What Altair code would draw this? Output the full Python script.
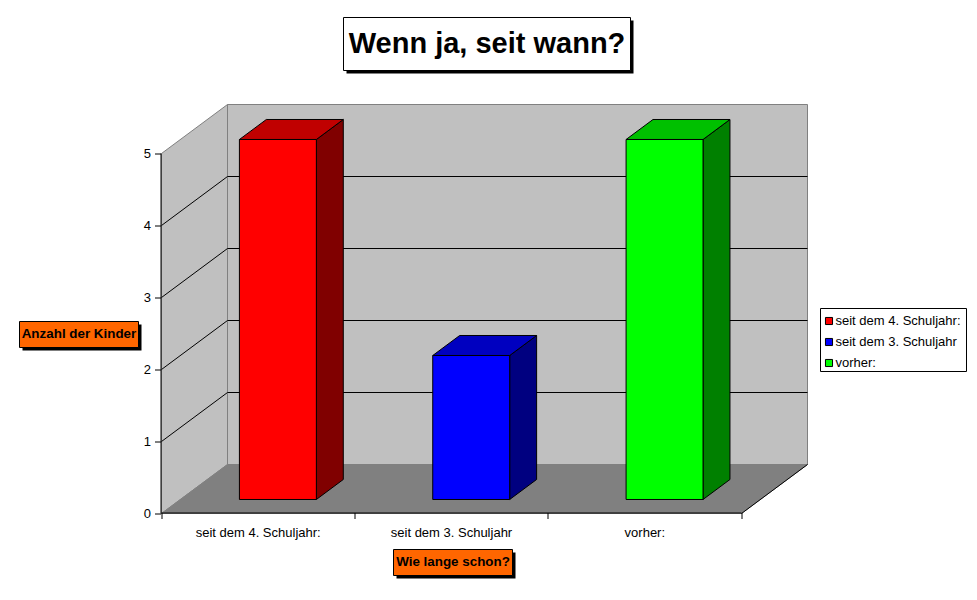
import altair as alt
import pandas as pd

categories = ["seit dem 4. Schuljahr:", "seit dem 3. Schuljahr", "vorher:"]
values = [5, 2, 5]
front_colors = ["#FF0000", "#0000FF", "#00FF00"]
top_colors = ["#C00000", "#0000C0", "#00C000"]
side_colors = ["#800000", "#000080", "#008000"]
y_ticks = [0, 1, 2, 3, 4, 5]
x_ticks = [0, 1, 2, 3]
grid_levels = [1, 2, 3, 4]

FONT = "Liberation Sans"
W, H = 961, 584
Y_MAX = 5
X_MAX = 3
# depth of the 3D box in data units
DX = 66 / 193.33
DY = 49 / 72
T0, T1 = 0.286, 0.694
INSET, BAR_W = 0.403, 0.398

xs = alt.Scale(domain=[0, X_MAX], range=[153.5, 733.5], nice=False, zero=False)
ys = alt.Scale(domain=[0, Y_MAX], range=[505.5, 145.5], nice=False, zero=False)


def X(f="x", axis=None):
    return alt.X(f"{f}:Q", scale=xs, axis=axis, title=None)


def Y(f="y", axis=None):
    return alt.Y(f"{f}:Q", scale=ys, axis=axis, title=None)


X2 = alt.X2("x2:Q")
Y2 = alt.Y2("y2:Q")
layers = []
one = pd.DataFrame({"a": [0]})

# back wall
layers.append(
    alt.Chart(pd.DataFrame([{"x": DX, "x2": X_MAX + DX, "y": DY, "y2": Y_MAX + DY}]))
    .mark_rect(fill="#C0C0C0", stroke="#808080", strokeWidth=1)
    .encode(x=X(), x2=X2, y=Y(), y2=Y2)
)
# left wall
layers.append(
    alt.Chart(pd.DataFrame([{"x": 0, "y": 0, "y2": Y_MAX}, {"x": DX, "y": DY, "y2": Y_MAX + DY}]))
    .mark_area(orient="vertical", fill="#C0C0C0", stroke="#808080", strokeWidth=1)
    .encode(x=X(), y=Y(), y2=Y2)
)
# floor
layers.append(
    alt.Chart(pd.DataFrame([{"y": 0, "x": 0, "x2": X_MAX}, {"y": DY, "x": DX, "x2": X_MAX + DX}]))
    .mark_area(orient="horizontal", fill="#808080", stroke="#808080", strokeWidth=1)
    .encode(x=X(), x2=X2, y=Y())
)
# black front-right floor edge
layers.append(
    alt.Chart(pd.DataFrame([{"x": X_MAX, "y": 0}, {"x": X_MAX + DX, "y": DY}]))
    .mark_line(color="black", strokeWidth=1)
    .encode(x=X(), y=Y())
)
# grid lines on left and back wall
grid_rows = []
for g in grid_levels:
    grid_rows += [
        {"g": g, "x": 0, "y": g},
        {"g": g, "x": DX, "y": g + DY},
        {"g": g, "x": X_MAX + DX, "y": g + DY},
    ]
layers.append(
    alt.Chart(pd.DataFrame(grid_rows))
    .mark_line(color="black", strokeWidth=1)
    .encode(x=X(), y=Y(), detail="g:N")
)

# bars: sides and tops
for i, v in enumerate(values):
    left = i + INSET
    right = left + BAR_W
    dx = (T1 - T0) * DX
    base = T0 * DY
    d = (T1 - T0) * DY
    layers.append(
        alt.Chart(pd.DataFrame([
            {"x": right, "y": base, "y2": base + v},
            {"x": right + dx, "y": base + d, "y2": base + d + v},
        ]))
        .mark_area(orient="vertical", fill=side_colors[i], stroke="black", strokeWidth=1)
        .encode(x=X(), y=Y(), y2=Y2)
    )
    layers.append(
        alt.Chart(pd.DataFrame([
            {"y": base + v, "x": left, "x2": right},
            {"y": base + d + v, "x": left + dx, "x2": right + dx},
        ]))
        .mark_area(orient="horizontal", fill=top_colors[i], stroke="black", strokeWidth=1)
        .encode(x=X(), x2=X2, y=Y())
    )

# legend frame, drawn below the legend itself
layers.append(
    alt.Chart(one).mark_rect(fill="white", stroke="black", strokeWidth=1).encode(
        x=alt.value(812.5), x2=alt.value(958.5), y=alt.value(300.5), y2=alt.value(363.5)
    )
)

# bar fronts, with the legend
bars = pd.DataFrame({
    "cat": categories,
    "x": [i + INSET for i in range(len(values))],
    "x2": [i + INSET + BAR_W for i in range(len(values))],
    "y": [T0 * DY] * len(values),
    "y2": [T0 * DY + v for v in values],
})
layers.append(
    alt.Chart(bars)
    .mark_rect(stroke="black", strokeWidth=1)
    .encode(
        x=X(),
        x2=X2,
        y=Y(),
        y2=Y2,
        fill=alt.Fill(
            "cat:N",
            sort=categories,
            scale=alt.Scale(domain=categories, range=front_colors),
            legend=alt.Legend(
                orient="none",
                legendX=814.5,
                legendY=306.5,
                title=None,
                padding=0,
                symbolType="square",
                symbolSize=50,
                symbolStrokeColor="black",
                symbolStrokeWidth=1,
                labelFont=FONT,
                labelFontSize=13,
                labelColor="black",
                labelOffset=0,
                rowPadding=7,
                labelLimit=200,
            ),
        ),
    )
)

# axes
axis_layer = (
    alt.Chart(pd.DataFrame({"x": [0], "y": [0]}))
    .mark_point(opacity=0)
    .encode(
        x=X(axis=alt.Axis(
            orient="bottom", offset=-79, values=x_ticks, labels=False, grid=False, translate=0,
            domainColor="black", tickColor="black", tickSize=6, zindex=1,
        )),
        y=Y(axis=alt.Axis(
            orient="left", offset=-153, values=y_ticks, grid=False, format="d", translate=0,
            domainColor="black", tickColor="black", tickSize=6, zindex=1,
            labelFont=FONT, labelFontSize=13, labelColor="black", labelPadding=4,
        )),
    )
)
layers.append(axis_layer)

# category labels
layers.append(
    alt.Chart(pd.DataFrame({"cat": categories, "x": [i + 0.5 for i in range(len(categories))]}))
    .mark_text(font=FONT, fontSize=13, color="black", baseline="middle")
    .encode(x=X(), y=alt.value(525), text="cat:N")
)


def box(x0, y0, x1, y1, fill, text, size, dy=0):
    return [
        alt.Chart(one).mark_rect(fill="black").encode(
            x=alt.value(x0 + 3), x2=alt.value(x1 + 3), y=alt.value(y0 + 3), y2=alt.value(y1 + 3)
        ),
        alt.Chart(one).mark_rect(fill=fill, stroke="black", strokeWidth=1).encode(
            x=alt.value(x0), x2=alt.value(x1), y=alt.value(y0), y2=alt.value(y1)
        ),
        alt.Chart(one).mark_text(
            text=text, font=FONT, fontWeight="bold", fontSize=size, color="black",
            align="center", baseline="middle",
        ).encode(x=alt.value((x0 + x1) / 2), y=alt.value((y0 + y1) / 2 + dy)),
    ]


layers += box(335.5, 9.5, 622.5, 62.5, "white", "Wenn ja, seit wann?", 29)
layers += box(11.5, 313.5, 130.5, 339.5, "#FF6600", "Anzahl der Kinder", 13.4, -1)
layers += box(385.5, 541.5, 504.5, 567.5, "#FF6600", "Wie lange schon?", 13.4, -1)

chart = (
    alt.layer(*layers)
    .resolve_axis(x="independent", y="independent")
    .properties(width=W, height=H, padding=0, autosize=alt.AutoSizeParams(type="none"), background="white")
    .configure_view(stroke=None)
)
chart.save("out.html", embed_options={"renderer": "svg", "actions": False})
